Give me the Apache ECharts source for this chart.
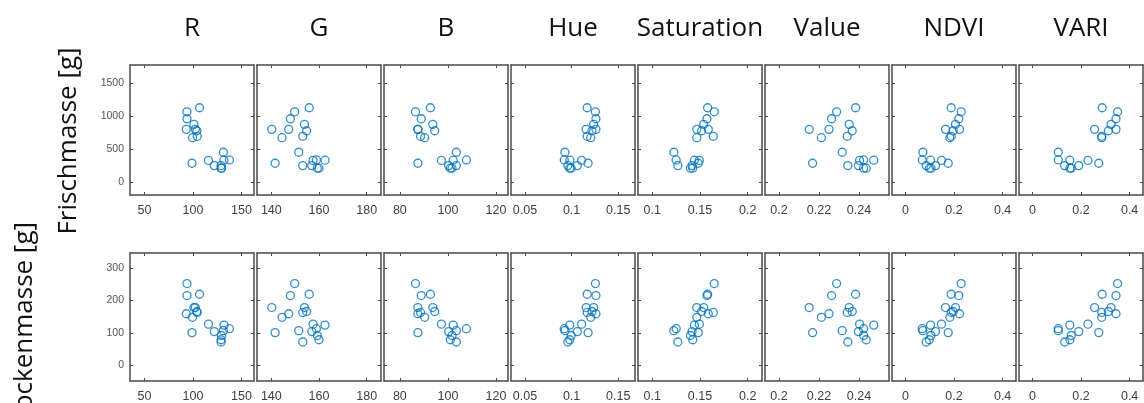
<!DOCTYPE html>
<html>
<head>
<meta charset="utf-8">
<script src="https://cdn.jsdelivr.net/npm/echarts@6/dist/echarts.min.js"></script>
<style>
html,body{margin:0;padding:0;background:#fff;}
#chart{width:1144px;height:403px;}
</style>
</head>
<body>
<div id="chart"></div>
<script>
// ---- data (18 samples) ----
const featureNames = ['R', 'G', 'B', 'Hue', 'Saturation', 'Value', 'NDVI', 'VARI'];
const rowLabels = ['Frischmasse [g]', 'Trockenmasse [g]'];

const frischmasse = [1130, 1069, 964, 879, 804, 804, 783, 699, 678, 458, 342, 335, 338, 292, 256, 256, 217, 217];
const trockenmasse = [219, 252, 215, 178, 178, 159, 166, 163, 148, 107, 113, 127, 124, 101, 72, 104, 92, 79];

const xR   = [106.8, 93.8, 93.8, 101, 102.5, 93.1, 104, 104.4, 99.5, 131.4, 137.6, 116, 132, 99, 129, 122, 129.5, 129];
const xG   = [155.9, 149.8, 148, 153.9, 140.2, 147.3, 154.8, 153.2, 144.5, 151.5, 158.9, 157.5, 162.5, 141.6, 153.2, 157, 159.3, 160];
const xB   = [92.7, 86.5, 88.9, 93.7, 87.5, 87.5, 94.5, 88.6, 90.3, 103.5, 107.7, 97.3, 102.2, 87.5, 103.5, 100.3, 101.7, 101];
const xHue = [0.1167, 0.1255, 0.1261, 0.1237, 0.1156, 0.1261, 0.1219, 0.1167, 0.1205, 0.0928, 0.0921, 0.1107, 0.0981, 0.1177, 0.096, 0.1061, 0.0995, 0.098];
const xSat = [0.158, 0.1649, 0.1573, 0.1539, 0.1466, 0.1587, 0.1517, 0.1639, 0.1466, 0.1226, 0.125, 0.1493, 0.1441, 0.1482, 0.1268, 0.1417, 0.14, 0.1424];
const xVal = [0.2383, 0.2288, 0.2263, 0.2351, 0.2151, 0.225, 0.2366, 0.2341, 0.2212, 0.2316, 0.2423, 0.2403, 0.2474, 0.2168, 0.2344, 0.2397, 0.2423, 0.2436];
const xNDVI = [0.1885, 0.2296, 0.2197, 0.2062, 0.1651, 0.2226, 0.1967, 0.1885, 0.1829, 0.0719, 0.0694, 0.1487, 0.1035, 0.1762, 0.0858, 0.124, 0.1054, 0.0986];
const xVARI = [0.287, 0.3504, 0.3439, 0.3236, 0.2557, 0.3439, 0.3126, 0.2854, 0.2854, 0.1065, 0.1065, 0.2285, 0.1541, 0.2732, 0.1329, 0.1907, 0.16, 0.1541];

// ---- tick labels ----
const xTicksR = [50, 100, 150];
const xTicksG = [140, 160, 180];
const xTicksB = [80, 100, 120];
const xTicksHue = [0.05, 0.1, 0.15];
const xTicksSat = [0.1, 0.15, 0.2];
const xTicksVal = [0.2, 0.22, 0.24];
const xTicksNDVI = [0, 0.2, 0.4];
const xTicksVARI = [0, 0.2, 0.4];
const yTicksFrisch = [0, 500, 1000, 1500];
const yTicksTrocken = [0, 100, 200, 300];

// ---- layout ----
const xValues = [xR, xG, xB, xHue, xSat, xVal, xNDVI, xVARI];
const xTicks = [xTicksR, xTicksG, xTicksB, xTicksHue, xTicksSat, xTicksVal, xTicksNDVI, xTicksVARI];
const xRanges = [[35, 163], [134, 186], [73.4, 125], [0.035, 0.168], [0.085, 0.215], [0.193, 0.255], [-0.055, 0.455], [-0.055, 0.455]];
const yValues = [frischmasse, trockenmasse];
const yTicks = [yTicksFrisch, yTicksTrocken];
const yRanges = [[-188, 1776], [-48, 346]];
const rowTop = [65, 253];
const rowHeight = [130, 132];
const colLeft0 = 130, colPitch = 127, colWidth = 124;

const frameColor = '#4a4a4a';
const plainNumber = v => String(Math.round(v * 1e6) / 1e6);
const grids = [], xAxes = [], yAxes = [], series = [];

for (let r = 0; r < 2; r++) {
  for (let c = 0; c < 8; c++) {
    const gi = grids.length;
    grids.push({left: colLeft0 + c * colPitch, top: rowTop[r], width: colWidth, height: rowHeight[r], containLabel: false});
    const baseAxisLine = {show: true, onZero: false, lineStyle: {color: frameColor, width: 1.5}};
    const tickStyle = {show: true, inside: true, length: 3, lineStyle: {color: frameColor, width: 1}};
    xAxes.push({
      type: 'value', gridIndex: gi, position: 'bottom', min: xRanges[c][0], max: xRanges[c][1],
      axisLine: baseAxisLine,
      axisTick: Object.assign({customValues: xTicks[c]}, tickStyle),
      axisLabel: {show: true, customValues: xTicks[c], formatter: plainNumber, margin: 9, color: '#404040', fontSize: 12.5, fontFamily: '"Liberation Sans", Arial, sans-serif'},
      splitLine: {show: false}
    });
    xAxes.push({
      type: 'value', gridIndex: gi, position: 'top', min: xRanges[c][0], max: xRanges[c][1],
      axisLine: baseAxisLine,
      axisTick: Object.assign({customValues: xTicks[c]}, tickStyle),
      axisLabel: {show: false},
      splitLine: {show: false}
    });
    yAxes.push({
      type: 'value', gridIndex: gi, position: 'left', min: yRanges[r][0], max: yRanges[r][1],
      axisLine: baseAxisLine,
      axisTick: Object.assign({customValues: yTicks[r]}, tickStyle),
      axisLabel: {show: c === 0, customValues: yTicks[r], formatter: plainNumber, margin: 6, color: '#555', fontSize: 10.5, fontFamily: '"Liberation Sans", Arial, sans-serif'},
      splitLine: {show: false}
    });
    yAxes.push({
      type: 'value', gridIndex: gi, position: 'right', min: yRanges[r][0], max: yRanges[r][1],
      axisLine: baseAxisLine,
      axisTick: Object.assign({customValues: yTicks[r]}, tickStyle),
      axisLabel: {show: false},
      splitLine: {show: false}
    });
    const xs = xValues[c], ys = yValues[r];
    series.push({
      type: 'scatter', xAxisIndex: 2 * gi, yAxisIndex: 2 * gi,
      data: xs.map((x, i) => [x, ys[i]]),
      symbol: 'circle', symbolSize: 8,
      itemStyle: {color: 'rgba(0,0,0,0)', borderColor: '#0072BD', borderWidth: 1.3},
      emphasis: {disabled: true}, silent: true
    });
  }
}

const graphics = [];
for (let c = 0; c < 8; c++) {
  graphics.push({
    type: 'text', x: colLeft0 + c * colPitch + colWidth / 2, y: 29,
    style: {text: featureNames[c], fontSize: 26, fontFamily: '"Open Sans", sans-serif', fill: '#111', align: 'center', verticalAlign: 'middle'}
  });
}
graphics.push({
  type: 'text', x: 69, y: 141, rotation: Math.PI / 2,
  style: {text: rowLabels[0], fontSize: 26, fontFamily: '"Open Sans", sans-serif', fill: '#111', align: 'center', verticalAlign: 'middle'}
});
graphics.push({
  type: 'text', x: 25, y: 222, rotation: Math.PI / 2,
  style: {text: rowLabels[1], fontSize: 26, fontFamily: '"Open Sans", sans-serif', fill: '#111', align: 'right', verticalAlign: 'middle'}
});

const chart = echarts.init(document.getElementById('chart'), null, {renderer: 'canvas'});
chart.setOption({
  animation: false,
  backgroundColor: '#fff',
  grid: grids,
  xAxis: xAxes,
  yAxis: yAxes,
  series: series,
  graphic: graphics
});
</script>
</body>
</html>
